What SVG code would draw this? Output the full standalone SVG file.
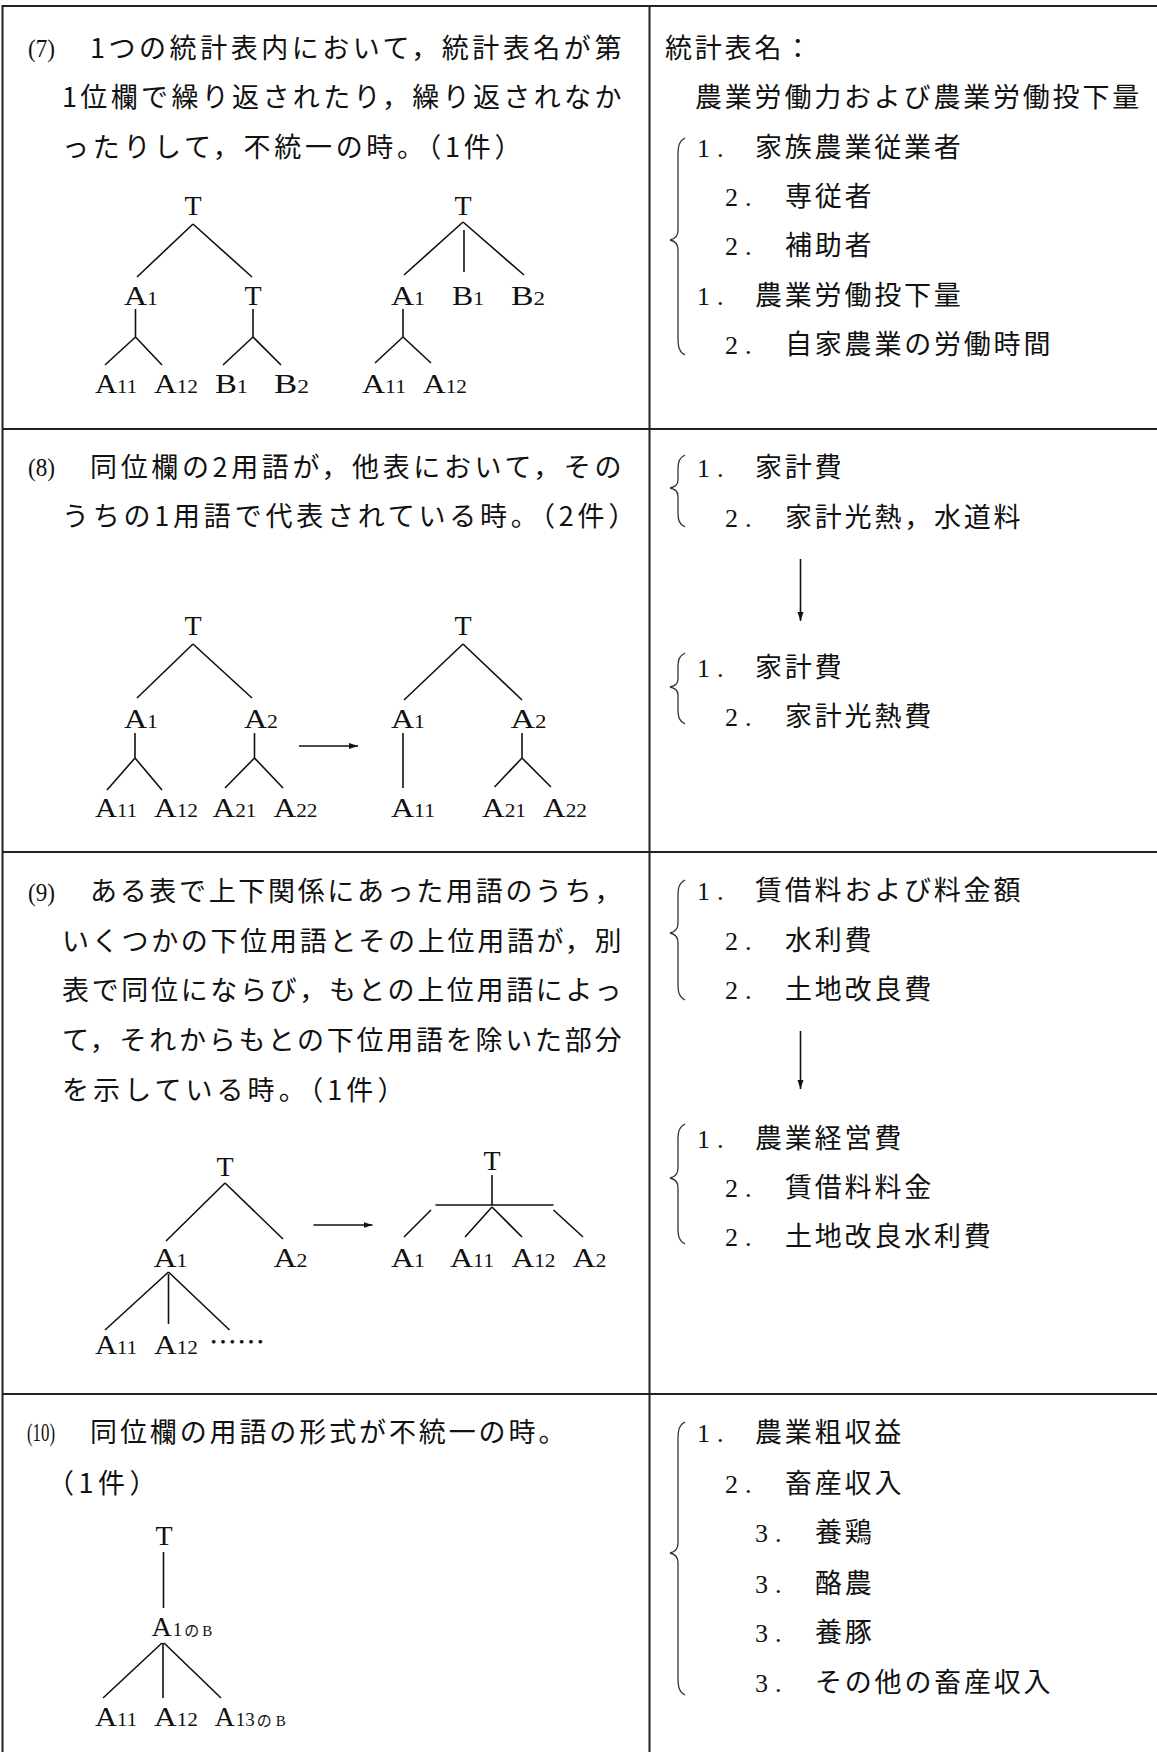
<svg xmlns="http://www.w3.org/2000/svg" width="1157" height="1752" viewBox="0 0 1157 1752">
<style>
.jp{font-family:"Noto Sans CJK JP","Noto Sans CJK SC",sans-serif;font-size:27px;letter-spacing:2.6px;fill:#111}
.jr{font-family:"Noto Sans CJK JP","Noto Sans CJK SC",sans-serif;font-size:27px;letter-spacing:2.8px;fill:#111}
.no{font-family:"Liberation Serif",serif;font-size:26px;letter-spacing:7px;fill:#111}
.pn{font-family:"Liberation Serif",serif;font-size:25px;fill:#111}
.lbl{font-family:"Liberation Serif",serif;font-size:28px;fill:#111}
.mid{text-anchor:middle}
.sub{font-size:19px}
.sm{font-size:15px}
.jps{font-family:"Noto Sans CJK JP","Noto Sans CJK SC",sans-serif;font-size:15px}
.edge{stroke:#111;stroke-width:1.6;fill:none}
.brace{stroke:#333;stroke-width:1.3;fill:none}
.grid{stroke:#222;stroke-width:2}
</style>
<defs>
<marker id="ah" markerWidth="10" markerHeight="8" refX="9" refY="4" orient="auto" markerUnits="userSpaceOnUse">
<path d="M0,1 L9,4 L0,7 z" fill="#111"/>
</marker>
</defs>
<rect width="1157" height="1752" fill="#fff"/>
<g id="grid" class="grid">
<line x1="2" y1="6" x2="1157" y2="6"/>
<line x1="2" y1="429" x2="1157" y2="429"/>
<line x1="2" y1="852" x2="1157" y2="852"/>
<line x1="2" y1="1394" x2="1157" y2="1394"/>
<line x1="2.5" y1="5" x2="2.5" y2="1752"/>
<line x1="649.5" y1="5" x2="649.5" y2="1752"/>
</g>

<!-- Row (7) description -->
<g id="r7-desc">
<text class="pn" x="28" y="57" textLength="27" lengthAdjust="spacingAndGlyphs">(7)</text>
<text class="jp" x="90" y="58" textLength="534" lengthAdjust="spacing">1つの統計表内において，統計表名が第</text>
<text class="jp" x="62" y="107" textLength="562" lengthAdjust="spacing">1位欄で繰り返されたり，繰り返されなか</text>
<text class="jp" x="62" y="157" textLength="462" lengthAdjust="spacing">ったりして，不統一の時。（1件）</text>
</g>
<g id="r7-list">
<text class="jr" x="665" y="58">統計表名：</text>
<text class="jr" x="695" y="107">農業労働力および農業労働投下量</text>
<text class="no" x="697" y="157">1.</text><text class="jr" x="755" y="157">家族農業従業者</text>
<text class="no" x="725" y="206">2.</text><text class="jr" x="785" y="206">専従者</text>
<text class="no" x="725" y="255">2.</text><text class="jr" x="785" y="255">補助者</text>
<text class="no" x="697" y="305">1.</text><text class="jr" x="755" y="305">農業労働投下量</text>
<text class="no" x="725" y="354">2.</text><text class="jr" x="785" y="354">自家農業の労働時間</text>
</g>

<!-- Row (7) tree nodes -->
<g id="t7a-T"><text class="lbl mid" x="193" y="215">T</text></g>
<g id="t7a-A1"><text class="lbl" x="124" y="305" textLength="34" lengthAdjust="spacingAndGlyphs">A<tspan class="sub">1</tspan></text></g>
<g id="t7a-T2"><text class="lbl mid" x="253" y="305">T</text></g>
<g id="t7a-A11"><text class="lbl" x="95" y="393" textLength="42" lengthAdjust="spacingAndGlyphs">A<tspan class="sub">11</tspan></text></g>
<g id="t7a-A12"><text class="lbl" x="154" y="393" textLength="44" lengthAdjust="spacingAndGlyphs">A<tspan class="sub">12</tspan></text></g>
<g id="t7a-B1"><text class="lbl" x="215" y="393" textLength="33" lengthAdjust="spacingAndGlyphs">B<tspan class="sub">1</tspan></text></g>
<g id="t7a-B2"><text class="lbl" x="274" y="393" textLength="35" lengthAdjust="spacingAndGlyphs">B<tspan class="sub">2</tspan></text></g>

<g id="t7b-T"><text class="lbl mid" x="463" y="215">T</text></g>
<g id="t7b-A1"><text class="lbl" x="391" y="305" textLength="34" lengthAdjust="spacingAndGlyphs">A<tspan class="sub">1</tspan></text></g>
<g id="t7b-B1"><text class="lbl" x="452" y="305" textLength="32" lengthAdjust="spacingAndGlyphs">B<tspan class="sub">1</tspan></text></g>
<g id="t7b-B2"><text class="lbl" x="511" y="305" textLength="34" lengthAdjust="spacingAndGlyphs">B<tspan class="sub">2</tspan></text></g>
<g id="t7b-A11"><text class="lbl" x="362" y="393" textLength="44" lengthAdjust="spacingAndGlyphs">A<tspan class="sub">11</tspan></text></g>
<g id="t7b-A12"><text class="lbl" x="423" y="393" textLength="44" lengthAdjust="spacingAndGlyphs">A<tspan class="sub">12</tspan></text></g>

<!-- Row (8) -->
<g id="r8-desc">
<text class="pn" x="28" y="476" textLength="27" lengthAdjust="spacingAndGlyphs">(8)</text>
<text class="jp" x="90" y="477" textLength="534" lengthAdjust="spacing">同位欄の2用語が，他表において，その</text>
<text class="jp" x="62" y="526" textLength="576" lengthAdjust="spacing">うちの1用語で代表されている時。（2件）</text>
</g>
<g id="r8-list-a">
<text class="no" x="697" y="477">1.</text><text class="jr" x="755" y="477">家計費</text>
<text class="no" x="725" y="527">2.</text><text class="jr" x="785" y="527">家計光熱，水道料</text>
</g>
<g id="r8-list-b">
<text class="no" x="697" y="677">1.</text><text class="jr" x="755" y="677">家計費</text>
<text class="no" x="725" y="726">2.</text><text class="jr" x="785" y="726">家計光熱費</text>
</g>

<g id="t8a-T"><text class="lbl mid" x="193" y="635">T</text></g>
<g id="t8a-A1"><text class="lbl" x="124" y="728" textLength="34" lengthAdjust="spacingAndGlyphs">A<tspan class="sub">1</tspan></text></g>
<g id="t8a-A2"><text class="lbl" x="244" y="728" textLength="34" lengthAdjust="spacingAndGlyphs">A<tspan class="sub">2</tspan></text></g>
<g id="t8a-A11"><text class="lbl" x="95" y="817" textLength="42" lengthAdjust="spacingAndGlyphs">A<tspan class="sub">11</tspan></text></g>
<g id="t8a-A12"><text class="lbl" x="154" y="817" textLength="44" lengthAdjust="spacingAndGlyphs">A<tspan class="sub">12</tspan></text></g>
<g id="t8a-A21"><text class="lbl" x="212.5" y="817" textLength="44" lengthAdjust="spacingAndGlyphs">A<tspan class="sub">21</tspan></text></g>
<g id="t8a-A22"><text class="lbl" x="273.5" y="817" textLength="44" lengthAdjust="spacingAndGlyphs">A<tspan class="sub">22</tspan></text></g>

<g id="t8b-T"><text class="lbl mid" x="463" y="635">T</text></g>
<g id="t8b-A1"><text class="lbl" x="391" y="728" textLength="34" lengthAdjust="spacingAndGlyphs">A<tspan class="sub">1</tspan></text></g>
<g id="t8b-A2"><text class="lbl" x="510.5" y="728" textLength="36" lengthAdjust="spacingAndGlyphs">A<tspan class="sub">2</tspan></text></g>
<g id="t8b-A11"><text class="lbl" x="391" y="817" textLength="44" lengthAdjust="spacingAndGlyphs">A<tspan class="sub">11</tspan></text></g>
<g id="t8b-A21"><text class="lbl" x="482" y="817" textLength="44" lengthAdjust="spacingAndGlyphs">A<tspan class="sub">21</tspan></text></g>
<g id="t8b-A22"><text class="lbl" x="543" y="817" textLength="44" lengthAdjust="spacingAndGlyphs">A<tspan class="sub">22</tspan></text></g>

<!-- Row (9) -->
<g id="r9-desc">
<text class="pn" x="28" y="901" textLength="27" lengthAdjust="spacingAndGlyphs">(9)</text>
<text class="jp" x="90" y="901" textLength="534" lengthAdjust="spacing">ある表で上下関係にあった用語のうち，</text>
<text class="jp" x="62" y="951" textLength="562" lengthAdjust="spacing">いくつかの下位用語とその上位用語が，別</text>
<text class="jp" x="62" y="1000" textLength="562" lengthAdjust="spacing">表で同位にならび，もとの上位用語によっ</text>
<text class="jp" x="62" y="1050" textLength="562" lengthAdjust="spacing">て，それからもとの下位用語を除いた部分</text>
<text class="jp" x="62" y="1100" textLength="345" lengthAdjust="spacing">を示している時。（1件）</text>
</g>
<g id="r9-list-a">
<text class="no" x="697" y="900">1.</text><text class="jr" x="755" y="900">賃借料および料金額</text>
<text class="no" x="725" y="950">2.</text><text class="jr" x="785" y="950">水利費</text>
<text class="no" x="725" y="999">2.</text><text class="jr" x="785" y="999">土地改良費</text>
</g>
<g id="r9-list-b">
<text class="no" x="697" y="1148">1.</text><text class="jr" x="755" y="1148">農業経営費</text>
<text class="no" x="725" y="1197">2.</text><text class="jr" x="785" y="1197">賃借料料金</text>
<text class="no" x="725" y="1246">2.</text><text class="jr" x="785" y="1246">土地改良水利費</text>
</g>

<g id="t9a-T"><text class="lbl mid" x="225" y="1176">T</text></g>
<g id="t9a-A1"><text class="lbl" x="153.5" y="1267" textLength="34" lengthAdjust="spacingAndGlyphs">A<tspan class="sub">1</tspan></text></g>
<g id="t9a-A2"><text class="lbl" x="273.5" y="1267" textLength="34" lengthAdjust="spacingAndGlyphs">A<tspan class="sub">2</tspan></text></g>
<g id="t9a-A11"><text class="lbl" x="95" y="1354" textLength="42" lengthAdjust="spacingAndGlyphs">A<tspan class="sub">11</tspan></text></g>
<g id="t9a-A12"><text class="lbl" x="154" y="1354" textLength="44" lengthAdjust="spacingAndGlyphs">A<tspan class="sub">12</tspan></text></g>
<g id="t9a-etc"><text class="jp" x="209" y="1352" textLength="56" lengthAdjust="spacingAndGlyphs" style="letter-spacing:0">……</text></g>

<g id="t9b-T"><text class="lbl mid" x="492" y="1170">T</text></g>
<g id="t9b-A1"><text class="lbl" x="391" y="1267" textLength="34" lengthAdjust="spacingAndGlyphs">A<tspan class="sub">1</tspan></text></g>
<g id="t9b-A11"><text class="lbl" x="450" y="1267" textLength="44" lengthAdjust="spacingAndGlyphs">A<tspan class="sub">11</tspan></text></g>
<g id="t9b-A12"><text class="lbl" x="511.5" y="1267" textLength="44" lengthAdjust="spacingAndGlyphs">A<tspan class="sub">12</tspan></text></g>
<g id="t9b-A2"><text class="lbl" x="572.5" y="1267" textLength="34" lengthAdjust="spacingAndGlyphs">A<tspan class="sub">2</tspan></text></g>

<!-- Row (10) -->
<g id="r10-desc">
<text class="pn" x="27" y="1441" textLength="28" lengthAdjust="spacingAndGlyphs">(10)</text>
<text class="jp" x="90" y="1442" textLength="478" lengthAdjust="spacing">同位欄の用語の形式が不統一の時。</text>
<text class="jp" x="47" y="1493" textLength="112" lengthAdjust="spacing">（1件）</text>
</g>
<g id="r10-list">
<text class="no" x="697" y="1442">1.</text><text class="jr" x="755" y="1442">農業粗収益</text>
<text class="no" x="725" y="1493">2.</text><text class="jr" x="785" y="1493">畜産収入</text>
<text class="no" x="755" y="1542">3.</text><text class="jr" x="815" y="1542">養鶏</text>
<text class="no" x="755" y="1593">3.</text><text class="jr" x="815" y="1593">酪農</text>
<text class="no" x="755" y="1642">3.</text><text class="jr" x="815" y="1642">養豚</text>
<text class="no" x="755" y="1692">3.</text><text class="jr" x="815" y="1692">その他の畜産収入</text>
</g>

<g id="t10-T"><text class="lbl mid" x="164" y="1545">T</text></g>
<g id="t10-A1B"><text class="lbl" x="151.5" y="1636">A<tspan class="sub" dx="1">1</tspan><tspan class="jps" dx="2">の</tspan><tspan class="sm" dx="3">B</tspan></text></g>
<g id="t10-A11"><text class="lbl" x="95" y="1726" textLength="42" lengthAdjust="spacingAndGlyphs">A<tspan class="sub">11</tspan></text></g>
<g id="t10-A12"><text class="lbl" x="154" y="1726" textLength="44" lengthAdjust="spacingAndGlyphs">A<tspan class="sub">12</tspan></text></g>
<g id="t10-A13B"><text class="lbl" x="214.5" y="1726">A<tspan class="sub" dx="1">13</tspan><tspan class="jps" dx="2">の</tspan><tspan class="sm" dx="4">B</tspan></text></g>

<!-- Braces -->
<g id="braces" class="brace">
<path d="M685,138 C679,141 678,146 678,156 L678,230 C678,236 675,239 670,240 C675,241 678,244 678,250 L678,337 C678,347 679,352 685,355"/>
<path d="M685,455 C679,458 678,462 678,470 L678,480 C678,485 675,487 670,488 C675,489 678,491 678,496 L678,512 C678,520 679,524 685,527"/>
<path d="M685,653 C679,656 678,660 678,668 L678,679 C678,684 675,686 670,687 C675,688 678,690 678,695 L678,709 C678,717 679,721 685,724"/>
<path d="M685,880 C679,883 678,888 678,896 L678,923 C678,929 675,932 670,933 C675,934 678,937 678,943 L678,984 C678,992 679,997 685,1000"/>
<path d="M685,1124 C679,1127 678,1132 678,1140 L678,1168 C678,1174 675,1177 670,1178 C675,1179 678,1182 678,1188 L678,1228 C678,1236 679,1241 685,1244"/>
<path d="M685,1422 C679,1425 678,1430 678,1440 L678,1543 C678,1549 675,1552 670,1553 C675,1554 678,1557 678,1563 L678,1677 C678,1687 679,1692 685,1695"/>
</g>

<!-- Connectors -->
<g id="connectors" class="edge">
<path d="M193,224 L137,277 M193,224 L252,277"/>
<path d="M135.5,309 L135.5,337 L105,365 M135.5,337 L162,365"/>
<path d="M253,309 L253,337 L223,365 M253,337 L281,365"/>
<path d="M463,222 L404,275 M464,230 L464,272 M463,222 L524,275"/>
<path d="M403,309 L403,337 L375,363 M403,337 L431,363"/>

<path d="M193,644 L137,698 M193,644 L252,698"/>
<path d="M135,733 L135,758 L107,790 M135,758 L162,790"/>
<path d="M254.5,733 L254.5,758 L225,788 M254.5,758 L283,788"/>
<path d="M463,644 L404,700 M463,644 L522,700"/>
<path d="M403,733 L403,788"/>
<path d="M522,733 L522,758 L494.5,787 M522,758 L551,787"/>
<line x1="299" y1="746" x2="358" y2="746" marker-end="url(#ah)"/>
<line x1="800.5" y1="559" x2="800.5" y2="621" marker-end="url(#ah)"/>

<path d="M225,1183 L166,1241 M225,1183 L283,1239"/>
<path d="M168.5,1272 L105,1330 M168.5,1274 L168.5,1324 M168.5,1272 L229.5,1330"/>
<path d="M492,1175 L492,1205 M435.5,1205 L553.5,1205 M431,1210 L404,1237 M492,1207 L465,1237 M492,1207 L522,1237 M553.5,1210 L583,1237"/>
<line x1="313.5" y1="1225" x2="372.5" y2="1225" marker-end="url(#ah)"/>
<line x1="800.5" y1="1031" x2="800.5" y2="1089" marker-end="url(#ah)"/>

<path d="M163.5,1552 L163.5,1608"/>
<path d="M162,1643 L103,1698 M163,1643 L163,1698 M164,1643 L221,1698"/>
</g>
</svg>
